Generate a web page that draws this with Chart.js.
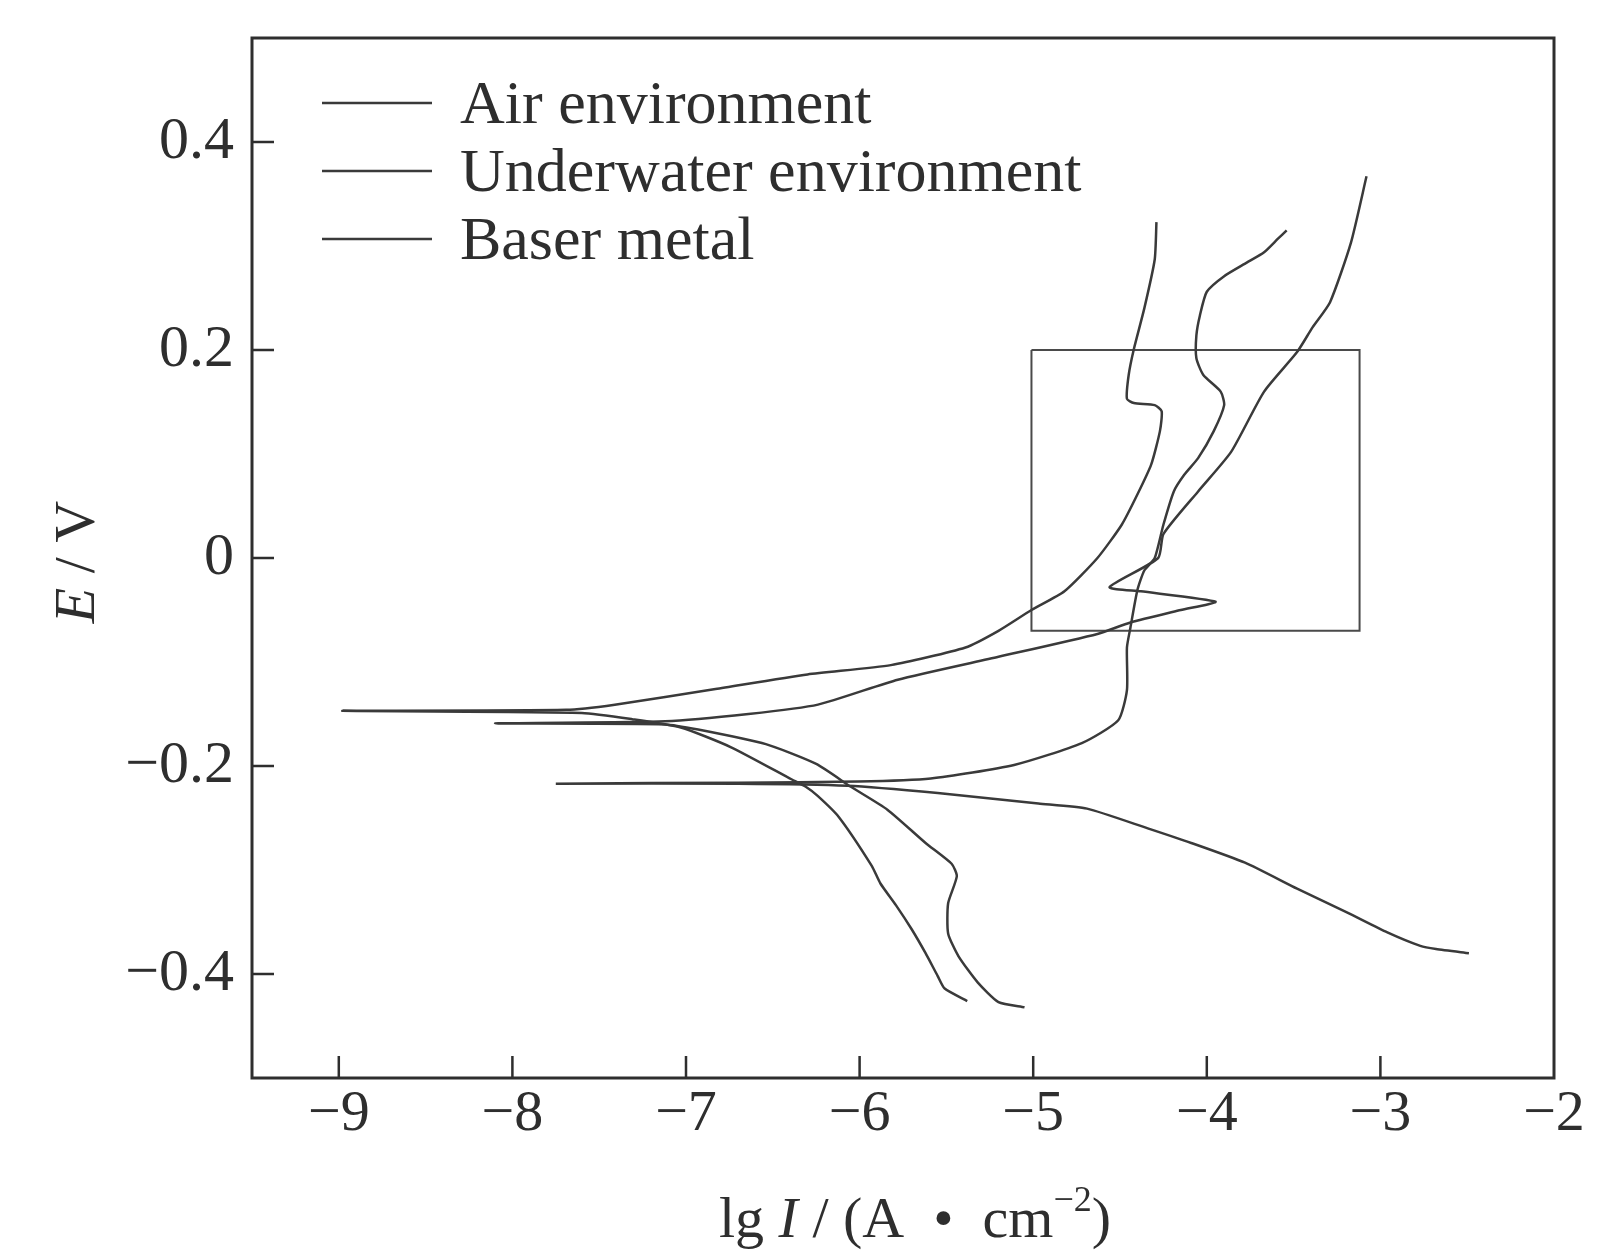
<!DOCTYPE html>
<html>
<head>
<meta charset="utf-8">
<script src="https://cdn.jsdelivr.net/npm/chart.js@4.4.1/dist/chart.umd.min.js"></script>
<style>
    html, body { margin: 0; padding: 0; background: #fff; }
    #wrap { width: 1612px; height: 1255px; }
</style>
</head>
<body>
<div id="wrap"><canvas id="polChart"></canvas></div>
<script>
// Axis ticks
const xTicks = [-9, -8, -7, -6, -5, -4, -3, -2];
const yTicks = [-0.4, -0.2, 0, 0.2, 0.4];

// Series labels
const seriesNames = ['Air environment', 'Underwater environment', 'Baser metal'];

// Air environment: cathodic end -> Ecorr spike -> anodic end
const airX = [-5.38, -5.51, -5.55, -5.62, -5.70, -5.79, -5.88, -5.93, -6.12, -6.24, -6.31, -6.39, -6.74, -7.03, -7.31, -7.60, -8.98,
    -7.69, -7.41, -6.83, -6.30, -5.82, -5.39, -5.20, -5.01, -4.82, -4.63, -4.49, -4.40, -4.32, -4.27, -4.26, -4.30, -4.42, -4.46, -4.45, -4.42, -4.36, -4.30, -4.29];
const airY = [-0.426, -0.414, -0.402, -0.380, -0.357, -0.334, -0.313, -0.296, -0.249, -0.229, -0.220, -0.213, -0.182, -0.163, -0.155, -0.149, -0.147,
    -0.146, -0.141, -0.126, -0.112, -0.103, -0.086, -0.070, -0.050, -0.032, 0.000, 0.032, 0.061, 0.090, 0.122, 0.141, 0.147, 0.149, 0.153, 0.176, 0.201, 0.240, 0.287, 0.323];

// Underwater environment
const waterX = [-5.05, -5.20, -5.32, -5.43, -5.49, -5.49, -5.44, -5.47, -5.62, -5.84, -6.05, -6.25, -6.54, -6.93, -7.12, -8.10,
    -7.12, -6.64, -6.24, -5.78, -5.20, -4.63, -4.44, -4.15, -3.95, -4.38, -4.56, -4.28, -4.25, -4.05, -3.86, -3.67, -3.48, -3.39, -3.29, -3.17, -3.08];
const waterY = [-0.432, -0.427, -0.408, -0.383, -0.361, -0.332, -0.306, -0.294, -0.274, -0.242, -0.220, -0.198, -0.179, -0.165, -0.160, -0.159,
    -0.157, -0.150, -0.141, -0.117, -0.095, -0.073, -0.062, -0.050, -0.042, -0.032, -0.028, 0.000, 0.023, 0.064, 0.102, 0.160, 0.198, 0.222, 0.246, 0.303, 0.367];

// Baser metal
const baseX = [-2.49, -2.68, -2.77, -2.96, -3.19, -3.48, -3.78, -4.09, -4.34, -4.69, -4.97, -5.55, -6.07, -6.70, -7.75,
    -6.70, -6.01, -5.59, -5.11, -4.72, -4.51, -4.46, -4.46, -4.44, -4.40, -4.36, -4.30, -4.25, -4.19, -4.13, -4.05, -3.96, -3.90, -3.92, -4.02, -4.06, -4.06, -4.04, -4.00, -3.90, -3.77, -3.67, -3.59, -3.54];
const baseY = [-0.380, -0.376, -0.373, -0.360, -0.341, -0.318, -0.293, -0.274, -0.260, -0.241, -0.236, -0.226, -0.219, -0.217, -0.217,
    -0.216, -0.215, -0.212, -0.199, -0.178, -0.156, -0.127, -0.086, -0.067, -0.031, -0.012, 0.000, 0.032, 0.064, 0.080, 0.096, 0.122, 0.147, 0.160, 0.176, 0.192, 0.214, 0.233, 0.256, 0.271, 0.284, 0.294, 0.307, 0.315];

// Highlight box
const boxX = [-5.01, -3.12, -3.12, -5.01, -5.01];
const boxY = [0.200, 0.200, -0.070, -0.070, 0.200];

const inkColor = '#2e2e2e';
const curveColor = '#3a3a3a';
const serif = "'Liberation Serif', 'Times New Roman', serif";

function toPoints(xs, ys) {
    return xs.map(function(v, i) { return { x: v, y: ys[i] }; });
}

function fmtTick(v) {
    if (Math.abs(v) < 1e-9) return '0';
    const s = String(Math.round(Math.abs(v) * 10) / 10);
    return (v < 0 ? '\u2212' : '') + s;
}

// Frame, inward ticks, legend and axis titles
const decorPlugin = {
    id: 'decor',
    afterDraw: function(chart) {
        const ctx = chart.ctx;
        const a = chart.chartArea;
        const xs = chart.scales.x;
        const ys = chart.scales.y;
        ctx.save();

        // frame
        ctx.strokeStyle = inkColor;
        ctx.lineWidth = 3;
        ctx.strokeRect(a.left, a.top, a.right - a.left, a.bottom - a.top);

        // ticks pointing inward
        ctx.lineWidth = 2.5;
        ctx.beginPath();
        xs.ticks.forEach(function(t) {
            const px = xs.getPixelForValue(t.value);
            if (px < a.right - 2) {
                ctx.moveTo(px, a.bottom);
                ctx.lineTo(px, a.bottom - 22);
            }
        });
        ys.ticks.forEach(function(t) {
            const py = ys.getPixelForValue(t.value);
            ctx.moveTo(a.left, py);
            ctx.lineTo(a.left + 22, py);
        });
        ctx.stroke();

        // legend
        ctx.font = '62px ' + serif;
        ctx.fillStyle = inkColor;
        ctx.textBaseline = 'alphabetic';
        ctx.textAlign = 'left';
        chart.data.datasets.forEach(function(ds, i) {
            if (!ds.inLegend) return;
            const ly = a.top + 65 + i * 68;
            ctx.strokeStyle = ds.borderColor;
            ctx.lineWidth = 2.5;
            ctx.beginPath();
            ctx.moveTo(a.left + 70, ly);
            ctx.lineTo(a.left + 180, ly);
            ctx.stroke();
            ctx.fillText(ds.label, a.left + 208, ly + 20);
        });

        // x title: lg I / (A • cm^-2)
        const parts = [
            { t: 'lg ', f: '58px ' + serif, dy: 0 },
            { t: 'I', f: 'italic 58px ' + serif, dy: 0 },
            { t: ' / (A  \u2022  cm', f: '58px ' + serif, dy: 0 },
            { t: '\u22122', f: '36px ' + serif, dy: -26 },
            { t: ')', f: '58px ' + serif, dy: 0 }
        ];
        let total = 0;
        parts.forEach(function(p) { ctx.font = p.f; p.w = ctx.measureText(p.t).width; total += p.w; });
        let cx = (a.left + a.right) / 2 + 12 - total / 2;
        const by = a.bottom + 159;
        parts.forEach(function(p) {
            ctx.font = p.f;
            ctx.fillText(p.t, cx, by + p.dy);
            cx += p.w;
        });

        // y title: E / V
        ctx.translate(a.left - 178, (a.top + a.bottom) / 2 + 4);
        ctx.rotate(-Math.PI / 2);
        const yparts = [
            { t: 'E', f: 'italic 58px ' + serif },
            { t: ' / V', f: '58px ' + serif }
        ];
        let ytotal = 0;
        yparts.forEach(function(p) { ctx.font = p.f; p.w = ctx.measureText(p.t).width; ytotal += p.w; });
        let ty = -ytotal / 2;
        yparts.forEach(function(p) {
            ctx.font = p.f;
            ctx.fillText(p.t, ty, 20);
            ty += p.w;
        });

        ctx.restore();
    }
};

const lineStyle = {
    showLine: true,
    pointRadius: 0,
    borderWidth: 2.5,
    tension: 0.2,
    fill: false
};

new Chart(document.getElementById('polChart'), {
    type: 'scatter',
    data: {
        datasets: [
            Object.assign({ label: seriesNames[0], data: toPoints(airX, airY), borderColor: curveColor, inLegend: true }, lineStyle),
            Object.assign({ label: seriesNames[1], data: toPoints(waterX, waterY), borderColor: curveColor, inLegend: true }, lineStyle),
            Object.assign({ label: seriesNames[2], data: toPoints(baseX, baseY), borderColor: curveColor, inLegend: true }, lineStyle),
            { label: 'box', data: toPoints(boxX, boxY), showLine: true, pointRadius: 0, borderWidth: 2, borderColor: '#4a4a4a', tension: 0, fill: false, inLegend: false }
        ]
    },
    options: {
        responsive: true,
        maintainAspectRatio: false,
        animation: false,
        layout: { padding: { top: 38, right: 58, left: 0, bottom: 0 } },
        plugins: {
            legend: { display: false },
            tooltip: { enabled: false }
        },
        scales: {
            x: {
                type: 'linear',
                min: -9.5,
                max: -2,
                afterBuildTicks: function(s) { s.ticks = xTicks.map(function(v) { return { value: v }; }); },
                afterFit: function(s) { s.height = 177; },
                grid: { display: false, drawTicks: false },
                border: { display: false },
                ticks: {
                    autoSkip: false,
                    maxRotation: 0,
                    padding: 2,
                    color: inkColor,
                    font: { family: serif, size: 58 },
                    callback: function(v) { return fmtTick(v); }
                }
            },
            y: {
                type: 'linear',
                min: -0.5,
                max: 0.5,
                afterBuildTicks: function(s) { s.ticks = yTicks.map(function(v) { return { value: v }; }); },
                afterFit: function(s) {
                    s.width = 252;
                    s.paddingTop = 0;
                    s.paddingBottom = 0;
                },
                grid: { display: false, drawTicks: false },
                border: { display: false },
                ticks: {
                    autoSkip: false,
                    padding: 18,
                    color: inkColor,
                    font: { family: serif, size: 60 },
                    callback: function(v) { return fmtTick(v); }
                }
            }
        }
    },
    plugins: [decorPlugin]
});
</script>
</body>
</html>
